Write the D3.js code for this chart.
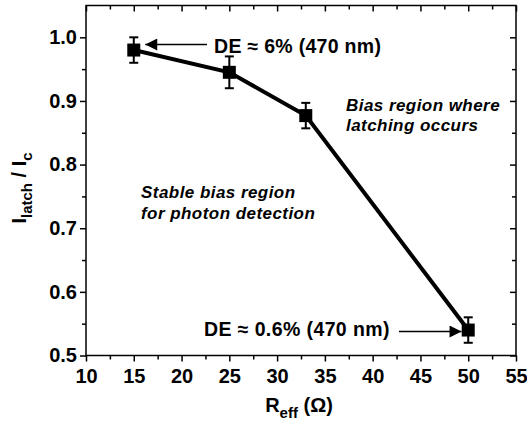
<!DOCTYPE html>
<html>
<head>
<meta charset="utf-8">
<script src="https://cdn.jsdelivr.net/npm/d3@7"></script>
<style>
  body { margin: 0; background: #fff; }
  text { font-family: "Liberation Sans", Arial, sans-serif; font-weight: bold; }
</style>
</head>
<body>
<script>
// data
var rEff = [15, 25, 33, 50];
var ratio = [0.98, 0.945, 0.877, 0.54];
var errs = [0.02, 0.025, 0.02, 0.02];
var xTicks = [10, 15, 20, 25, 30, 35, 40, 45, 50, 55];
var yTicks = [0.5, 0.6, 0.7, 0.8, 0.9, 1.0];

var width = 527, height = 426;
var pLeft = 86, pRight = 516, pTop = 5.5, pBottom = 355.5;

var svg = d3.select('body').append('svg')
  .attr('width', width)
  .attr('height', height);

var x = d3.scaleLinear().domain([10, 55]).range([pLeft, pRight]);
var y = d3.scaleLinear().domain([0.5, 1.05]).range([pBottom, pTop]);

var xMinor = d3.range(12.5, 55, 5);
var yMinor = d3.range(0.55, 1.05, 0.1);

// frame
svg.append('rect')
  .attr('x', pLeft).attr('y', pTop)
  .attr('width', pRight - pLeft).attr('height', pBottom - pTop)
  .attr('fill', 'none').attr('stroke', '#000').attr('stroke-width', 1.5);

var tickFont = 20;

// bottom axis, outward ticks
svg.append('g').attr('transform', 'translate(0,' + pBottom + ')')
  .call(d3.axisBottom(x).tickValues(xTicks).tickSize(6).tickSizeOuter(0).tickPadding(7).tickFormat(d3.format('d')));
svg.append('g').attr('transform', 'translate(0,' + pBottom + ')')
  .call(d3.axisBottom(x).tickValues(xMinor).tickSize(4).tickSizeOuter(0).tickFormat(''));

// left axis, outward ticks
svg.append('g').attr('transform', 'translate(' + pLeft + ',0)')
  .call(d3.axisLeft(y).tickValues(yTicks).tickSize(6).tickSizeOuter(0).tickPadding(3).tickFormat(d3.format('.1f')));
svg.append('g').attr('transform', 'translate(' + pLeft + ',0)')
  .call(d3.axisLeft(y).tickValues(yMinor).tickSize(4).tickSizeOuter(0).tickFormat(''));

// top axis, inward ticks
svg.append('g').attr('transform', 'translate(0,' + pTop + ')')
  .call(d3.axisTop(x).tickValues(xTicks).tickSize(-6).tickSizeOuter(0).tickFormat(''));
svg.append('g').attr('transform', 'translate(0,' + pTop + ')')
  .call(d3.axisTop(x).tickValues(xMinor).tickSize(-4).tickSizeOuter(0).tickFormat(''));

// right axis, inward ticks
svg.append('g').attr('transform', 'translate(' + pRight + ',0)')
  .call(d3.axisRight(y).tickValues(yTicks).tickSize(-6).tickSizeOuter(0).tickFormat(''));
svg.append('g').attr('transform', 'translate(' + pRight + ',0)')
  .call(d3.axisRight(y).tickValues(yMinor).tickSize(-4).tickSizeOuter(0).tickFormat(''));

svg.selectAll('.domain').remove();
svg.selectAll('.tick line').attr('stroke', '#000').attr('stroke-width', 1.5);
svg.selectAll('.tick text')
  .attr('fill', '#000')
  .style('font-size', tickFont + 'px')
  .style('font-family', '"Liberation Sans", Arial, sans-serif')
  .style('font-weight', 'bold');

// axis titles
var xt = svg.append('text')
  .attr('x', 299).attr('y', 412)
  .attr('text-anchor', 'middle')
  .style('font-size', '20px');
xt.append('tspan').text('R');
xt.append('tspan').attr('dy', 6).style('font-size', '15px').text('eff');
xt.append('tspan').attr('dy', -6).text(' (Ω)');

var yt = svg.append('text')
  .attr('transform', 'translate(26,188) rotate(-90)')
  .attr('text-anchor', 'middle')
  .style('font-size', '20px');
yt.append('tspan').text('I');
yt.append('tspan').attr('dy', 6).style('font-size', '15px').text('latch');
yt.append('tspan').attr('dy', -6).text(' / I');
yt.append('tspan').attr('dy', 6).style('font-size', '15px').text('c');

// data line
var pts = rEff.map(function(d, i) { return {x: d, y: ratio[i], e: errs[i]}; });

svg.append('path')
  .datum(pts)
  .attr('fill', 'none')
  .attr('stroke', '#000')
  .attr('stroke-width', 4)
  .attr('d', d3.line().x(function(d) { return x(d.x); }).y(function(d) { return y(d.y); }));

// error bars
var eb = svg.selectAll('.err').data(pts).enter().append('g').attr('class', 'err');
eb.append('line')
  .attr('x1', function(d) { return x(d.x); }).attr('x2', function(d) { return x(d.x); })
  .attr('y1', function(d) { return y(d.y - d.e); }).attr('y2', function(d) { return y(d.y + d.e); })
  .attr('stroke', '#000').attr('stroke-width', 2);
[-1, 1].forEach(function(s) {
  eb.append('line')
    .attr('x1', function(d) { return x(d.x) - 4.5; }).attr('x2', function(d) { return x(d.x) + 4.5; })
    .attr('y1', function(d) { return y(d.y + s * d.e); }).attr('y2', function(d) { return y(d.y + s * d.e); })
    .attr('stroke', '#000').attr('stroke-width', 2);
});

// markers
svg.selectAll('.pt').data(pts).enter().append('rect')
  .attr('class', 'pt')
  .attr('x', function(d) { return x(d.x) - 6.5; })
  .attr('y', function(d) { return y(d.y) - 6.5; })
  .attr('width', 13).attr('height', 13)
  .attr('fill', '#000');

// arrows
var defs = svg.append('defs');
defs.append('marker')
  .attr('id', 'ah').attr('viewBox', '0 0 10 10')
  .attr('refX', 10).attr('refY', 5)
  .attr('markerWidth', 15).attr('markerHeight', 12)
  .attr('markerUnits', 'userSpaceOnUse')
  .attr('orient', 'auto')
  .append('path').attr('d', 'M0,0 L10,5 L0,10 Z').attr('fill', '#000');

svg.append('line')
  .attr('x1', 207).attr('x2', x(16.2))
  .attr('y1', 44.5).attr('y2', 44.5)
  .attr('stroke', '#000').attr('stroke-width', 1.5)
  .attr('marker-end', 'url(#ah)');
svg.append('line')
  .attr('x1', 399).attr('x2', x(49.3))
  .attr('y1', 331.5).attr('y2', 331.5)
  .attr('stroke', '#000').attr('stroke-width', 1.5)
  .attr('marker-end', 'url(#ah)');

// annotations
svg.append('text').attr('x', 214).attr('y', 53).style('font-size', '19.5px').style('letter-spacing', '0.3px').text('DE ≈ 6% (470 nm)');
svg.append('text').attr('x', 204).attr('y', 336).style('font-size', '19.5px').style('letter-spacing', '0.4px').text('DE ≈ 0.6% (470 nm)');

var it = svg.append('g');
var notes = [
  {t: 'Bias region where', x: 346, y: 111},
  {t: 'latching occurs', x: 346, y: 131},
  {t: 'Stable bias region', x: 141, y: 198},
  {t: 'for photon detection', x: 141, y: 219}
];
it.selectAll('text').data(notes).enter().append('text')
  .attr('x', function(d) { return d.x; })
  .attr('y', function(d) { return d.y; })
  .style('font-size', '17px')
  .style('font-style', 'italic')
  .style('letter-spacing', '0.45px')
  .text(function(d) { return d.t; });
</script>
</body>
</html>
